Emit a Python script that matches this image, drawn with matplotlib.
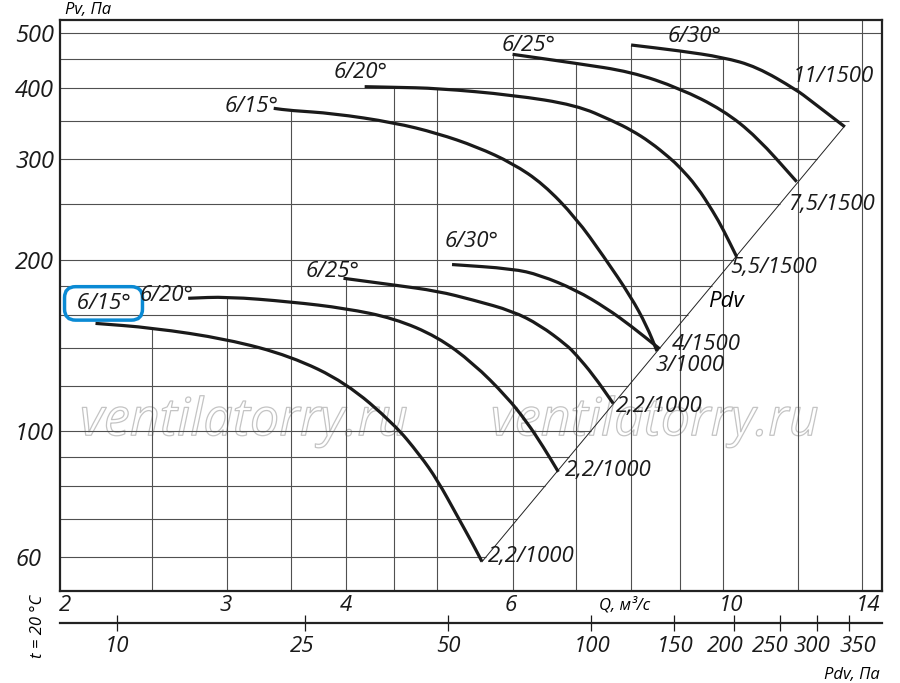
import numpy as np
import matplotlib.pyplot as plt
import matplotlib.patheffects as pe
from matplotlib.path import Path
from matplotlib.patches import PathPatch
from matplotlib.ticker import NullLocator, FixedLocator, NullFormatter

plt.rcParams['font.family'] = ['Open Sans', 'Noto Sans', 'DejaVu Sans']
plt.rcParams['font.style'] = 'italic'

# Fan curves: Q, m3/s  ->  Pv, Pa
# lower group (1000 rpm)
q_15_low = [2.18, 2.5, 3.0, 3.5, 4.0, 4.5, 4.79, 5.0, 5.24, 5.455, 5.57]
pv_15_low = [154.5, 151.8, 145.0, 135.4, 121.7, 102.9, 90.8, 82.0, 71.2, 63.1, 59.0]
q_20_low = [2.73, 3.0, 3.5, 4.0, 4.5, 5.0, 5.455, 5.915, 6.21, 6.465, 6.705]
pv_20_low = [171.0, 172.1, 168.6, 164.2, 157.7, 146.4, 131.5, 114.9, 103.8, 93.8, 84.8]
q_25_low = [3.98, 4.5, 5.0, 5.455, 6.0, 6.41, 6.84, 7.0, 7.30, 7.66]
pv_25_low = [185.4, 180.4, 176.1, 169.8, 162.4, 153.5, 141.6, 136.2, 125.4, 111.8]
q_30_low = [5.18, 6.0, 6.41, 7.0, 7.54, 8.0, 8.57]
pv_30_low = [196.0, 192.7, 187.9, 176.8, 164.2, 152.9, 139.5]
# upper group (1500 rpm)
q_15_up = [3.36, 3.5, 3.88, 4.5, 5.0, 5.5, 6.0, 6.465, 7.0, 7.48, 8.0, 8.31, 8.52]
pv_15_up = [368.5, 365.2, 361.1, 347.9, 333.1, 315.5, 295.1, 271.4, 236.5, 202.9, 171.9, 152.9, 138.1]
q_20_up = [4.19, 4.5, 5.0, 6.0, 7.0, 7.66, 8.0, 8.38, 8.79, 9.0, 9.38, 9.77, 10.0, 10.34]
pv_20_up = [402.2, 401.2, 399.6, 388.9, 373.5, 350.0, 337.6, 321.6, 301.5, 290.7, 269.2, 242.3, 226.2, 202.1]
q_25_up = [6.0, 7.0, 8.0, 9.0, 10.0, 10.85, 11.96]
pv_25_up = [458.4, 442.0, 427.2, 399.6, 366.0, 328.6, 273.9]
q_30_up = [8.0, 9.0, 10.0, 10.85, 11.96, 12.35, 13.44]
pv_30_up = [476.0, 465.0, 452.9, 436.0, 396.8, 381.0, 342.0]

curves = [
    (q_15_low, pv_15_low, '6/15°', '2,2/1000'),
    (q_20_low, pv_20_low, '6/20°', '2,2/1000'),
    (q_25_low, pv_25_low, '6/25°', '2,2/1000'),
    (q_30_low, pv_30_low, '6/30°', '3/1000'),
    (q_15_up, pv_15_up, '6/15°', '4/1500'),
    (q_20_up, pv_20_up, '6/20°', '5,5/1500'),
    (q_25_up, pv_25_up, '6/25°', '7,5/1500'),
    (q_30_up, pv_30_up, '6/30°', '11/1500'),
]

# dynamic pressure line Pdv = k * Q^2
k_dyn = 1.9
q_dyn = [5.57, 13.44]

# grid
vgrid_q = [2.5, 3, 3.5, 4, 4.5, 5, 6, 7, 8, 9, 10, 12, 14]
vgrid_top = [152, 172, 365, 185, 401, 400, 458, 442, 476, 465, 453, None, None]
hgrid_pv = [60, 70, 80, 90, 100, 120, 140, 160, 180, 200, 250, 300, 350, 400, 450, 500]
hgrid_end = [None] * 13 + [12.0, 10.0, 14.7]   # None -> ends on the Pdv line

x_ticks = [2, 3, 4, 6, 10, 14]
y_ticks = [60, 100, 200, 300, 400, 500]
pdv_ticks = [10, 25, 50, 100, 150, 200, 250, 300, 350]

# label nudges in pixels (style only)
x_lbl_dx = [5, -1, 0, -2, 8, 6]
pdv_lbl_dx = [0, -3, 0, 1, 1, -8, -9, -5, 9]
start_lbl = [('center', 8, 20), ('right', 5, 3), ('left', -38, 1), ('left', -7, 18),
             ('right', 5, 2), ('right', 23, 14), ('left', -11, 3), ('left', 37, 3)]
end_lbl = [(6, 5), (7, 1), (3, -3), (-4, -17), (15, 7), (-7, -11), (-9, -23), (-52, 50)]
px = 0.72  # points per pixel at 100 dpi


def smooth_path(q, p):
    # quadratic Bezier through segment midpoints, vertices as control points
    q = np.asarray(q, float)
    p = np.asarray(p, float)
    mq = np.sqrt(q[:-1] * q[1:])
    mp = np.sqrt(p[:-1] * p[1:])
    verts = [(q[0], p[0]), (mq[0], mp[0])]
    codes = [Path.MOVETO, Path.LINETO]
    for i in range(1, len(q) - 1):
        verts += [(q[i], p[i]), (mq[i], mp[i])]
        codes += [Path.CURVE3, Path.CURVE3]
    verts.append((q[-1], p[-1]))
    codes.append(Path.LINETO)
    return Path(verts, codes)


fig = plt.figure(figsize=(9, 6.83), dpi=100)
ax = fig.add_axes([60 / 900, 92.3 / 683, 821.7 / 900, 570.7 / 683])
ax.set_xscale('log')
ax.set_yscale('log')
xmin, xmax = 2, 14.7
ymin, ymax = 52.45, 526.6
ax.set_xlim(xmin, xmax)
ax.set_ylim(ymin, ymax)

gcol = '#505050'
for q, top in zip(vgrid_q, vgrid_top):
    ax.vlines(q, ymin, top if top else ymax, color=gcol, lw=0.8, zorder=1)
for p, end in zip(hgrid_pv, hgrid_end):
    xe = end if end else np.sqrt(p / k_dyn)
    ax.hlines(p, xmin, xe, color=gcol, lw=0.8, zorder=1)

qd = np.array(q_dyn)
ax.plot(qd, k_dyn * qd ** 2, color='#222222', lw=0.7, zorder=2)
ax.annotate('Pdv', (9.5, k_dyn * 9.5 ** 2), xytext=(6 * px, -3.5 * px),
            textcoords='offset points', ha='left', va='center', fontsize=16)

for i, (q, p, name, motor) in enumerate(curves):
    ax.add_patch(PathPatch(smooth_path(q, p), fill=False, ec='#1a1a1a', lw=2.3,
                           capstyle='butt', joinstyle='round', zorder=3))
    ha, dx, dy = start_lbl[i]
    kw = {}
    if i == 0:
        name = ' ' + name + ' '
        kw['bbox'] = dict(boxstyle='round,pad=0.28,rounding_size=0.5',
                          fc='none', ec='#0a8ad4', lw=2.5)
    ax.annotate(name, (q[0], p[0]), xytext=(dx * px, dy * px), textcoords='offset points',
                ha=ha, va='center' if ha != 'left' else 'baseline', fontsize=16,
                color='#1a1a1a', **kw)
    dx, dy = end_lbl[i]
    ax.annotate(motor, (q[-1], p[-1]), xytext=(dx * px, dy * px), textcoords='offset points',
                ha='left', va='center', fontsize=16, color='#1a1a1a')

# watermark
for xw in (0.224, 0.724):
    ax.text(xw, 0.296, 'ventilatorry.ru', transform=ax.transAxes, ha='center', va='center',
            fontsize=37.5, color='none', zorder=0,
            path_effects=[pe.withStroke(linewidth=0.9, foreground='#c4c4c4')])

for s in ax.spines.values():
    s.set_linewidth(1.6)
    s.set_color('#222222')

ax.xaxis.set_major_locator(NullLocator())
ax.xaxis.set_minor_locator(NullLocator())
ax.yaxis.set_major_locator(FixedLocator(y_ticks))
ax.yaxis.set_major_formatter(plt.FixedFormatter([str(v) for v in y_ticks]))
ax.yaxis.set_minor_locator(NullLocator())
ax.tick_params(axis='y', length=0, pad=32.4, labelsize=17, colors='#1a1a1a')
for lbl in ax.get_yticklabels():
    lbl.set_horizontalalignment('left')

for v, dx in zip(x_ticks, x_lbl_dx):
    ax.annotate(str(v), (v, 0), xycoords=('data', 'axes fraction'), xytext=(dx * px, -15 * px),
                textcoords='offset points', ha='center', va='center', fontsize=16,
                color='#1a1a1a', annotation_clip=False)

# second scale: dynamic pressure
sec_y = -0.0571
sec = ax.secondary_xaxis(sec_y, functions=(lambda q: k_dyn * np.asarray(q) ** 2,
                                           lambda p: np.sqrt(np.asarray(p) / k_dyn)))
sec.xaxis.set_major_locator(FixedLocator(pdv_ticks))
sec.xaxis.set_major_formatter(NullFormatter())
sec.xaxis.set_minor_locator(NullLocator())
sec.spines['bottom'].set_linewidth(1.6)
sec.spines['bottom'].set_color('#222222')
sec.tick_params(axis='x', direction='inout', length=12, width=0.9, colors='#1a1a1a')
for v, dx in zip(pdv_ticks, pdv_lbl_dx):
    ax.annotate(str(v), (np.sqrt(v / k_dyn), sec_y), xycoords=('data', 'axes fraction'),
                xytext=(dx * px, -23.4 * px), textcoords='offset points', ha='center',
                va='center', fontsize=16, color='#1a1a1a', annotation_clip=False)

ax.text(0.6876, -0.025, 'Q, м³/с', transform=ax.transAxes, ha='center', va='center', fontsize=12)
ax.text(0.998, -0.1477, 'Pdv, Па', transform=ax.transAxes, ha='right', va='center', fontsize=12)
ax.text(0.006, 1.0175, 'Pv, Па', transform=ax.transAxes, ha='left', va='center', fontsize=12)
ax.text(-0.0268, -0.0619, 't = 20 °C', transform=ax.transAxes, ha='center', va='center',
        rotation=90, fontsize=12)

fig.savefig('out.png', dpi=100)
